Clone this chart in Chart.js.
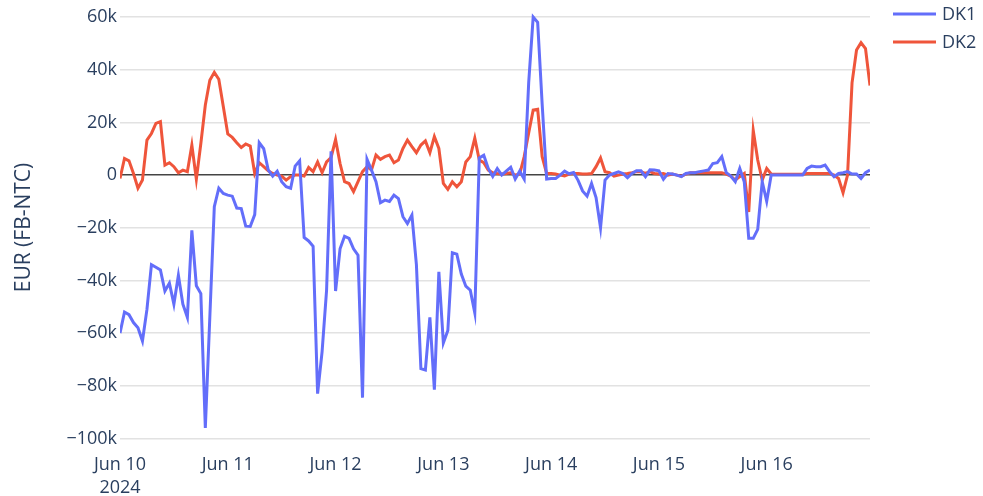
<!DOCTYPE html>
<html>
<head>
<meta charset="utf-8">
<script src="https://cdn.jsdelivr.net/npm/chart.js@4.4.1/dist/chart.umd.min.js"></script>
<style>
  html, body { margin: 0; padding: 0; background: #fff; }
  #wrap { width: 983px; height: 496px; }
</style>
</head>
<body>
<div id="wrap"><canvas id="myChart" width="983" height="496"></canvas></div>
<script>
// ********** data ************
// hourly values from Jun 10 00:00 to Jun 16 23:00, in thousand EUR
const dk1 = [
  -60, -52, -53, -56, -58, -63, -51, -34, -35, -36,
  -44, -41, -49, -38, -49, -54, -21, -42, -45, -96,
  -54, -12, -5, -7, -7.6, -8, -12.5, -12.7, -19.4, -19.5,
  -15, 12.3, 10, 2, -0.4, 1.5, -2.5, -4.4, -5, 3.4,
  5.4, -23.7, -25, -27, -83, -67, -43.7, 9, -44, -28,
  -23.2, -24, -28, -30.4, -84.5, 6, 1.9, -2.5, -10.5, -9.5,
  -10, -7.6, -8.9, -15.8, -18.4, -15.2, -34, -73.5, -74, -54,
  -81.5, -36.7, -63.7, -59, -29.5, -30, -37.6, -42.2, -43.7, -52.3,
  6.5, 7.5, 2.5, -0.5, 2.5, 0, 1.5, 3, -1.5, 1.5,
  -1.5, 35, 60, 58, 27, -1.5, -1.3, -1.3, 0, 1.5,
  0.5, 1, -2, -6, -8, -3.2, -8.5, -20, -1.9, 0,
  0.6, 1.2, 0.6, -1, 0.6, 1.6, 1.6, -0.6, 2, 1.9,
  1.6, -1.6, 0.6, 0.4, 0, -0.6, 0.6, 0.9, 0.9, 1.3,
  1.6, 1.9, 4.4, 4.7, 7, 0.9, -0.4, -2.5, 2.5, -2.5,
  -24, -24, -20.6, -2.5, -10, 0, 0, 0, 0, 0,
  0, 0, 0, 2.5, 3.4, 3.2, 3.2, 3.8, 1.3, -0.6,
  0.6, 0.9, 1.3, 0.4, 0.4, -1.3, 0.9, 1.9,
];
const dk2 = [
  -1.3, 6.3, 5.4, 0.6, -5, -1.9, 13.3, 15.8, 19.6, 20.3,
  3.8, 4.7, 3.2, 0.9, 1.9, 1.3, 11.4, -1.6, 12, 26.6,
  36, 39, 36.4, 26, 15.6, 14.3, 12.3, 10.5, 11.8, 11,
  0.6, 4.7, 3.2, 1.6, 0.6, 0, -0.4, -1.9, -0.6, 0,
  0, -0.4, 2.9, 1.3, 5, 0.9, 5, 6.7, 13.5, 4.4,
  -2.5, -3.2, -6.3, -2.5, 1.3, 3.2, 1.9, 7.6, 6, 7,
  7.6, 4.7, 5.7, 10.1, 13.3, 10.8, 8.5, 11.4, 13, 8.5,
  14.6, 10.1, -3.2, -5.4, -2.5, -4.4, -2.5, 5, 7, 14,
  5.7, 4.7, 1.9, 0.9, 0.6, 0.4, 0.6, 0.9, 0, 0.4,
  7, 16, 24.7, 25, 7, 0.6, 0.6, 0.4, 0, -0.3,
  0.4, 0.6, 0.6, 0.4, 0.4, 0.6, 3.2, 6.5, 1.3, 0.9,
  -0.4, 0, 0.4, 0.6, 0.9, 1.3, 1.3, 0.6, 1.3, 0.6,
  0.4, 0.6, 0, 0.4, 0, -0.4, 0.4, 0.9, 0.9, 0.9,
  0.9, 0.9, 0.9, 0.9, 0.9, 0.4, -0.4, -1.9, -0.6, 0.6,
  -14, 17, 5.7, -1.9, 2.5, 0.4, 0.3, 0.3, 0.3, 0.3,
  0.3, 0.3, 0.3, 0.6, 0.6, 0.6, 0.6, 0.6, 0.6, 0,
  -1.3, -6.7, 0, 35, 47.5, 50.3, 48, 34,
];

// x ticks: hour offsets of each day start
const dayTicks = [0, 24, 48, 72, 96, 120, 144];
const dayLabels = [["Jun 10", "2024"], "Jun 11", "Jun 12", "Jun 13", "Jun 14", "Jun 15", "Jun 16"];
const yTicks = [-100000, -80000, -60000, -40000, -20000, 0, 20000, 40000, 60000];

const seriesNames = ["DK1", "DK2"];
const seriesColors = ["#636efa", "#ef553b"];

const FONT = "'Open Sans', verdana, arial, sans-serif";
const TEXT = "#2a3f5f";

const toPoints = (arr) => arr.map((v, i) => ({ x: i, y: v * 1000 }));

function fmtK(v) {
  if (v === 0) return "0";
  return (v < 0 ? "\u2212" : "") + Math.abs(v / 1000) + "k";
}

// ********** legend drawn like plotly ************
const plotlyLegend = {
  id: "plotlyLegend",
  afterDraw(chart) {
    const c = chart.ctx;
    c.save();
    chart.data.datasets.forEach((ds, i) => {
      const y = 14 + i * 28;
      c.strokeStyle = ds.borderColor;
      c.lineWidth = 3;
      c.beginPath();
      c.moveTo(893, y);
      c.lineTo(936, y);
      c.stroke();
      c.fillStyle = TEXT;
      c.font = "18px " + FONT;
      c.textBaseline = "middle";
      c.fillText(ds.label, 942, y + 1);
    });
    c.restore();
  },
};

const ctx = document.getElementById("myChart");
const myChart = new Chart(ctx, {
  type: "line",
  data: {
    datasets: [
      {
        label: seriesNames[0],
        data: toPoints(dk1),
        borderColor: seriesColors[0],
        borderWidth: 3,
        pointRadius: 0,
        tension: 0,
      },
      {
        label: seriesNames[1],
        data: toPoints(dk2),
        borderColor: seriesColors[1],
        borderWidth: 3,
        pointRadius: 0,
        tension: 0,
      },
    ],
  },
  options: {
    responsive: false,
    animation: false,
    layout: { padding: { left: 0, right: 113, top: 6, bottom: 0 } },
    plugins: {
      legend: { display: false },
      tooltip: { enabled: false },
    },
    scales: {
      x: {
        type: "linear",
        min: 0,
        max: dk1.length - 1,
        afterBuildTicks: (s) => {
          s.ticks = dayTicks.map((v) => ({ value: v }));
        },
        afterFit: (s) => {
          s.height = 47;
          s.paddingLeft = 0;
          s.paddingRight = 0;
        },
        grid: { display: false },
        border: { display: false },
        ticks: {
          autoSkip: false,
          maxRotation: 0,
          padding: -4,
          color: TEXT,
          font: { family: FONT, size: 18, lineHeight: 1.28 },
          callback: (v) => dayLabels[dayTicks.indexOf(v)],
        },
      },
      y: {
        min: -104000,
        max: 64200,
        afterBuildTicks: (s) => {
          s.ticks = yTicks.map((v) => ({ value: v }));
        },
        afterFit: (s) => {
          s.width = 120;
          s.paddingTop = 0;
          s.paddingBottom = 0;
        },
        grid: {
          drawTicks: false,
          color: (c) => (c.tick && c.tick.value === 0 ? "#444444" : "#e2e2e2"),
          lineWidth: 1.5,
        },
        border: { display: false },
        ticks: {
          padding: 3,
          color: TEXT,
          font: { family: FONT, size: 18 },
          callback: fmtK,
        },
        title: {
          display: true,
          text: "EUR (FB-NTC)",
          color: TEXT,
          font: { family: FONT, size: 21 },
          padding: { top: 11, bottom: 0 },
        },
      },
    },
  },
  plugins: [plotlyLegend],
});
</script>
</body>
</html>
